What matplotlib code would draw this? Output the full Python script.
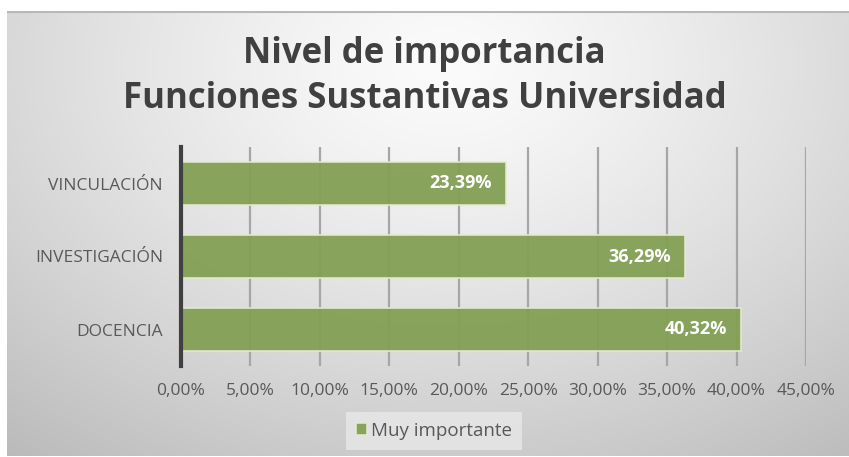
import matplotlib.pyplot as plt
import numpy as np

# datos
categorias = ["DOCENCIA", "INVESTIGACIÓN", "VINCULACIÓN"]
valores = [40.32, 36.29, 23.39]
etiquetas = ["40,32%", "36,29%", "23,39%"]
ticks_x = [0, 5, 10, 15, 20, 25, 30, 35, 40, 45]
ticks_x_lbl = ["0,00%", "5,00%", "10,00%", "15,00%", "20,00%", "25,00%",
               "30,00%", "35,00%", "40,00%", "45,00%"]
serie = "Muy importante"

plt.rcParams['font.family'] = ['Open Sans', 'DejaVu Sans']

W, H = 849, 457
fig = plt.figure(figsize=(W / 100, H / 100), dpi=100)
fig.patch.set_facecolor("white")

# fondo degradado (panel gris)
bg = fig.add_axes([7 / W, 1 - 456 / H, (W - 7) / W, 445 / H])
yy, xx = np.mgrid[0:1:300j, 0:1:600j]
r = np.sqrt(((xx - 0.52) / 0.75) ** 2 + ((yy - 0.12) / 1.0) ** 2)
v = np.clip(0.985 - 0.22 * r ** 1.3, 0, 1)
bg.imshow(np.dstack([v, v, v]), aspect="auto", extent=[0, 1, 1, 0])
bg.axhline(0.002, color="#b8b8b8", linewidth=1.5)
bg.set_xlim(0, 1)
bg.set_ylim(1, 0)
bg.set_axis_off()

ax = fig.add_axes([181 / W, 1 - 366 / H, 625 / W, 219 / H])
ax.patch.set_alpha(0)

color_barra = "#83a054"
y = np.arange(len(categorias))
bars = ax.barh(y, valores, height=0.58, color=color_barra, alpha=0.95,
               edgecolor="#e2ebcc", linewidth=1.2, zorder=3)

for b, lbl in zip(bars, etiquetas):
    ax.text(b.get_width() - 1.0, b.get_y() + b.get_height() / 2, lbl,
            ha="right", va="center", color="white", fontsize=13,
            fontweight="bold", zorder=4)

ax.set_xlim(0, 45)
ax.set_ylim(-0.5, 2.5)
ax.set_xticks(ticks_x)
ax.set_xticklabels(ticks_x_lbl)
ax.set_yticks(y)
ax.set_yticklabels(categorias)
ax.tick_params(axis="both", length=0, labelsize=12.5, colors="#595959")
ax.tick_params(axis="x", pad=12)
ax.tick_params(axis="y", pad=13)
ax.grid(axis="x", color="#a6a6a6", linewidth=1.6, zorder=1)
for s in ["top", "right", "bottom"]:
    ax.spines[s].set_visible(False)
ax.spines["left"].set_color("#404040")
ax.spines["left"].set_linewidth(3)
ax.spines["left"].set_zorder(5)

fig.text(0.5, 1 - 54 / H, "Nivel de importancia", ha="center", va="center",
         fontsize=25, fontweight="bold", color="#404040")
fig.text(0.5, 1 - 99 / H, "Funciones Sustantivas Universidad", ha="center",
         va="center", fontsize=25, fontweight="bold", color="#404040")

leg = ax.legend([bars[0]], [serie], loc="center",
                bbox_to_anchor=(434 / W, 1 - 431 / H),
                bbox_transform=fig.transFigure, fontsize=13.5,
                frameon=True, fancybox=False, handlelength=0.6,
                handleheight=0.6, handletextpad=0.2, borderpad=0.55)
leg.get_frame().set_facecolor("#e8e8e8")
leg.get_frame().set_edgecolor("none")
leg.get_frame().set_alpha(0.8)
for t in leg.get_texts():
    t.set_color("#595959")

fig.savefig("out.png", dpi=100)
